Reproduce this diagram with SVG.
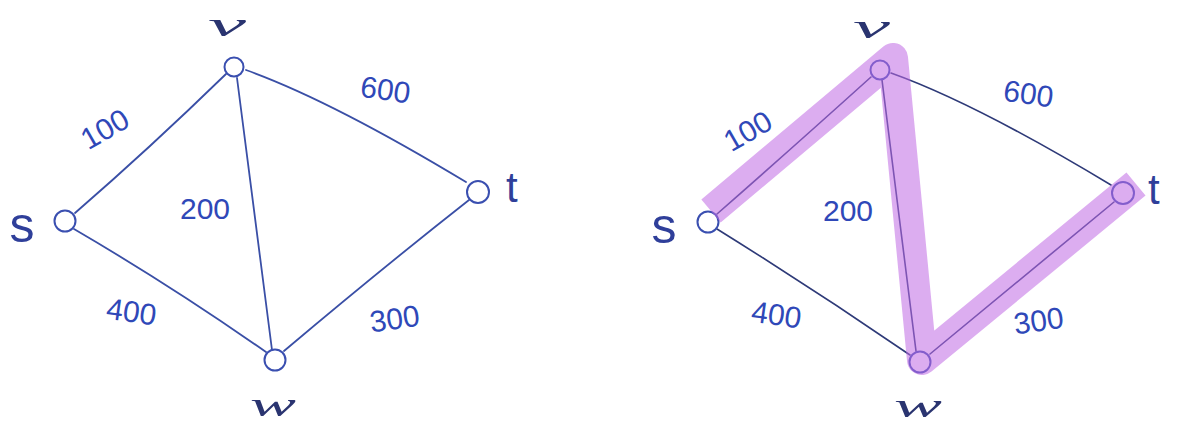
<svg xmlns="http://www.w3.org/2000/svg" width="1180" height="423" viewBox="0 0 1180 423">
<style>
.bg{fill:#ffffff}
.edge{fill:none;stroke:#3a4fa6;stroke-width:1.8;stroke-linecap:round}
.edge2{fill:none;stroke:#2e3a78;stroke-width:1.6;stroke-linecap:round}
.node{fill:#ffffff;stroke:#3a4fb0;stroke-width:2}
.lbl{font-family:"Liberation Sans",Arial,sans-serif;font-size:30px;fill:#2f48b8;text-anchor:middle}
.nl{font-family:"Liberation Sans",Arial,sans-serif;fill:#2f3f9a}
.cur{font-family:"Liberation Serif","Times New Roman",serif;font-style:italic;font-size:34px;fill:#2a3470}
.hl{fill:none;stroke:#c06ae4;stroke-opacity:0.55;stroke-width:30;stroke-linejoin:round;stroke-linecap:butt}
</style>
<rect class="bg" x="0" y="0" width="1180" height="423"/>

<!-- Left graph -->
<g id="left-edges">
  <path class="edge" d="M75,213 Q150,148 226,74"/>
  <path class="edge" d="M246,70 Q330,100 466,182"/>
  <path class="edge" d="M237,78 L272,350"/>
  <path class="edge" d="M74,229 Q170,285 266,352"/>
  <path class="edge" d="M284,351 Q380,270 469,200"/>
</g>
<g id="left-edge-labels">
  <text class="lbl" transform="translate(110,138) rotate(-30)">100</text>
  <text class="lbl" x="205" y="219">200</text>
  <text class="lbl" transform="translate(384,100) rotate(8)">600</text>
  <text class="lbl" transform="translate(396,329) rotate(-8)">300</text>
  <text class="lbl" transform="translate(130,322) rotate(8)">400</text>
</g>
<g id="left-s">
  <circle class="node" cx="65" cy="221" r="10.5"/>
  <text class="nl" x="22" y="242" font-size="50" text-anchor="middle">s</text>
</g>
<g id="left-v">
  <circle class="node" cx="234" cy="67" r="9.5"/>
  <text class="cur" x="208" y="36" textLength="38" lengthAdjust="spacingAndGlyphs">v</text>
</g>
<g id="left-t">
  <circle class="node" cx="478" cy="192" r="11"/>
  <text class="nl" x="506" y="202" font-size="42">t</text>
</g>
<g id="left-w">
  <circle class="node" cx="275" cy="360" r="10.5"/>
  <text class="cur" x="250" y="416" textLength="46" lengthAdjust="spacingAndGlyphs">w</text>
</g>

<!-- Right graph -->
<g id="right-edges">
  <path class="edge2" d="M717,214 Q790,150 871,77"/>
  <path class="edge2" d="M891,73 Q975,103 1111,185"/>
  <path class="edge2" d="M882,80 L916,351"/>
  <path class="edge2" d="M717,229 Q815,290 910,355"/>
  <path class="edge2" d="M930,354 Q1020,280 1114,202"/>
</g>
<g id="right-edge-labels">
  <text class="lbl" transform="translate(753,140) rotate(-30)">100</text>
  <text class="lbl" x="848" y="221">200</text>
  <text class="lbl" transform="translate(1027,104) rotate(8)">600</text>
  <text class="lbl" transform="translate(1040,331) rotate(-8)">300</text>
  <text class="lbl" transform="translate(775,325) rotate(8)">400</text>
</g>
<g id="right-s">
  <circle class="node" cx="708" cy="222" r="10.5"/>
  <text class="nl" x="664" y="243" font-size="50" text-anchor="middle">s</text>
</g>
<g id="right-v">
  <circle class="node" cx="880" cy="70" r="9.5"/>
  <text class="cur" x="853" y="38" textLength="37" lengthAdjust="spacingAndGlyphs">v</text>
</g>
<g id="right-t">
  <circle class="node" cx="1123" cy="193" r="11"/>
  <text class="nl" x="1148" y="204" font-size="42">t</text>
</g>
<g id="right-w">
  <circle class="node" cx="920" cy="362" r="10.5"/>
  <text class="cur" x="894" y="417" textLength="48" lengthAdjust="spacingAndGlyphs">w</text>
</g>

<!-- Highlighted path s-v-w-t -->
<g id="highlight">
  <path class="hl" d="M711,211 L893,58 L922,360 L1136,184"/>
</g>
</svg>
